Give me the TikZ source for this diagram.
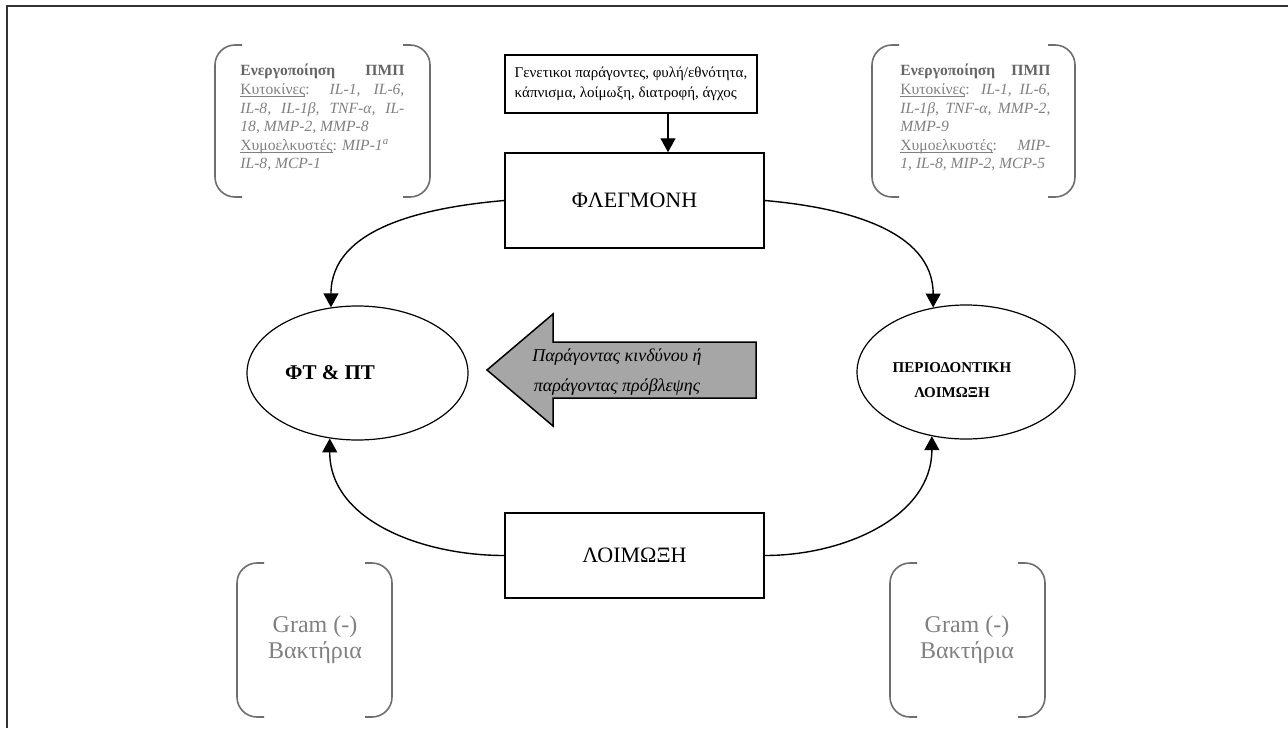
\documentclass[tikz,border=0pt]{standalone}
\usepackage{fontspec}
\setmainfont{Liberation Serif}
\usetikzlibrary{arrows.meta,calc,shapes.geometric}
\definecolor{brk}{HTML}{6E6E6E}
\definecolor{brktxt}{HTML}{808080}
\definecolor{brkbold}{HTML}{666666}
\definecolor{arrfill}{HTML}{A6A6A6}
\newcommand\jl[2]{\makebox[#1][s]{#2}}
\newcommand\ulx[1]{\setbox0\hbox{#1}\rlap{\rule[-1.1pt]{\wd0}{0.4pt}}\box0}
\newcommand\brkbox[4]{%
  \draw[brkline] (#1+27,#2) -| (#1,#4) -- (#1+27,#4);
  \draw[brkline] (#3-27,#2) -| (#3,#4) -- (#3-27,#4);}
\begin{document}
\begin{tikzpicture}[x=0.5pt,y=-0.5pt,
  rbox/.style={draw,line width=0.75pt,inner sep=0pt},
  ell/.style={draw,ellipse,line width=0.6pt,inner sep=0pt},
  conn/.style={-{Triangle[length=7pt,width=7.5pt]},line width=0.7pt},
  brkline/.style={draw=brk,line width=0.8pt,rounded corners=10pt},
  brktext/.style={inner sep=0pt,text=brktxt,font=\fontsize{7.8}{9.3}\selectfont,align=left},
  gram/.style={inner sep=0pt,text=brktxt,font=\fontsize{12}{13}\selectfont,align=center},
  big/.style={font=\fontsize{11}{13}\selectfont}]
\useasboundingbox (0,0) rectangle (1288,728);
% outer frame
\draw[line width=1.3pt,black!80] (7,728) -- (7,6) -- (1288,6);

% boxes
\node[rbox,minimum width=126pt,minimum height=29pt,
      font=\fontsize{7.5}{10}\selectfont,align=left] (gen) at (631,84)
  {Γενετικοι παράγοντες, φυλή/εθνότητα,\\κάπνισμα, λοίμωξη, διατροφή, άγχος};
\node[rbox,minimum width=129.5pt,minimum height=47.5pt,big] (fl) at (634.5,200.5) {ΦΛΕΓΜΟΝΗ};
\node[rbox,minimum width=129.5pt,minimum height=42.5pt,big] (lo) at (634.5,555.5) {ΛΟΙΜΩΞΗ};

% ellipses
\node[ell,minimum width=110.5pt,minimum height=67pt] (ft) at (357.5,373) {};
\node[font=\bfseries\fontsize{10.5}{12}\selectfont] (ftt) at (330,373) {ΦΤ \& ΠΤ};
\node[ell,minimum width=109pt,minimum height=67pt] (pl) at (966,372) {};
\node[font=\bfseries\fontsize{7.5}{12.5}\selectfont,align=center] (plt) at (952,380)
  {ΠΕΡΙΟΔΟΝΤΙΚΗ\\ΛΟΙΜΩΞΗ};

% connectors
\coordinate (g1) at ($(gen.south)+(37,0)$);
\draw[conn] (g1) -- (g1 |- fl.north);
\draw[conn] (fl.west) to[out=185,in=90] (ft.112.5);
\draw[conn] (fl.east) to[out=-5,in=90] (pl.117.3);
\draw[conn] (lo.west) to[out=180,in=-90] (ft.247.5);
\draw[conn] (lo.east) to[out=0,in=-90] (pl.242.7);

% big gray arrow
\draw[fill=arrfill,line width=0.75pt,line join=miter]
  (487,370) -- (553,314) -- (553,342) -- (756,342) -- (756,398)
  -- (553,398) -- (553,426) -- cycle;
\node[font=\itshape\fontsize{9}{15}\selectfont,align=center] (risk) at (617,372)
  {Παράγοντας κινδύνου ή\\παράγοντας πρόβλεψης};

% bracket boxes, top
\brkbox{215}{45}{430}{197}
\node[brktext,anchor=north west] (tlt) at (240,64) {%
\jl{82pt}{\textcolor{brkbold}{\bfseries Ενεργοποίηση ΠΜΠ}}\\
\jl{82pt}{\ulx{Κυτοκίνες}: \textit{IL-1, IL-6,}}\\
\jl{82pt}{\textit{IL-8, IL-1β, TNF-α, IL-}}\\
\textit{18, MMP-2, MMP-8}\\
\ulx{Χυμοελκυστές}: \textit{MIP-1}\textsuperscript{\textit{a}}\\
\textit{IL-8, MCP-1}};
\brkbox{872}{45}{1075}{197}
\node[brktext,anchor=north west] (trt) at (900,64) {%
\jl{75pt}{\textcolor{brkbold}{\bfseries Ενεργοποίηση ΠΜΠ}}\\
\jl{75pt}{\ulx{Κυτοκίνες}: \textit{IL-1, IL-6,}}\\
\jl{75pt}{\textit{IL-1β, TNF-α, MMP-2,}}\\
\textit{MMP-9}\\
\jl{75pt}{\ulx{Χυμοελκυστές}: \textit{MIP-}}\\
\textit{1, IL-8, MIP-2, MCP-5}};

% bracket boxes, bottom
\brkbox{237}{563}{392}{717}
\node[gram] (blt) at (315,640) {Gram (-)\\Βακτήρια};
\brkbox{890}{563}{1045}{717}
\node[gram] (brt) at (967,640) {Gram (-)\\Βακτήρια};
\end{tikzpicture}
\end{document}
